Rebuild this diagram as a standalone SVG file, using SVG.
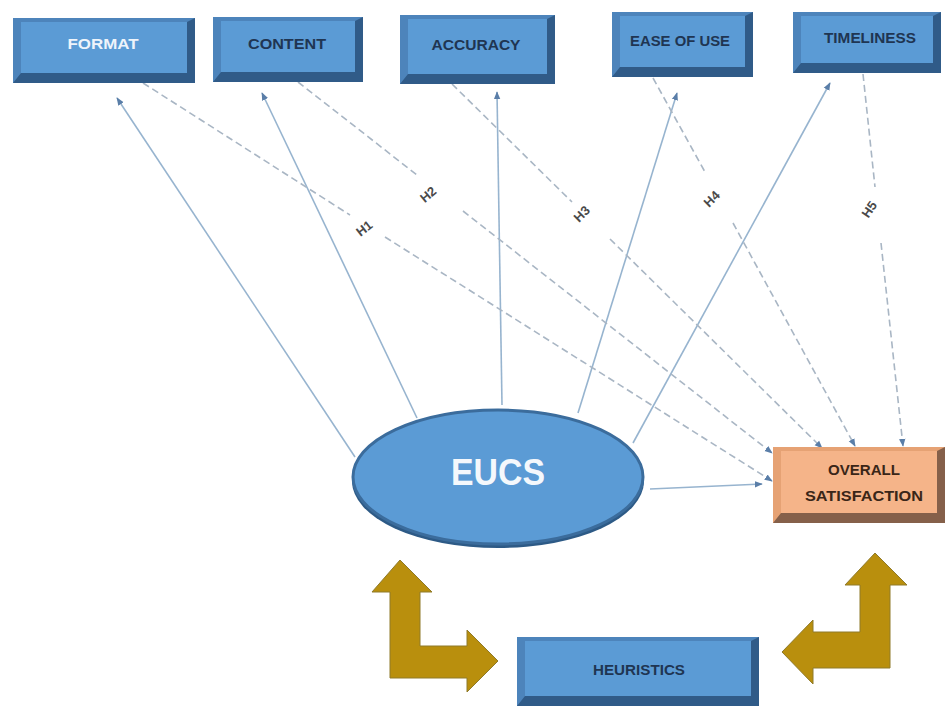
<svg xmlns="http://www.w3.org/2000/svg" width="948" height="708" viewBox="0 0 948 708">
<defs>
<style>
.out{fill:#305b88}
.lt{fill:#4d84bb}
.face{fill:#5b9bd5}
.oout{fill:#85604a}
.olt{fill:#e6a274}
.oface{fill:#f5b489}
.lbl{font-family:"Liberation Sans",Arial,sans-serif;font-weight:bold;font-size:15px;text-anchor:middle}
.dk{fill:#1f3552}
.wh{fill:#eef4fb}
.br{fill:#3a2618}
.h{font-family:"Liberation Sans",Arial,sans-serif;font-weight:bold;font-size:13px;fill:#4a4a4a;text-anchor:middle}
.sol{fill:none;stroke:#97b4cf;stroke-width:1.6}
.dsh{fill:none;stroke:#a9b6c4;stroke-width:1.6;stroke-dasharray:7 4}
.gold{fill:#b98f0d;stroke:#8f7a2a;stroke-width:1}
</style>
<marker id="ah" viewBox="0 0 10 10" refX="9" refY="5" markerWidth="8" markerHeight="8" markerUnits="userSpaceOnUse" orient="auto">
<path d="M0,1 L10,5 L0,9 Z" fill="#5a7ea8"/>
</marker>
</defs>
<rect width="948" height="708" fill="#ffffff"/>

<g id="connectors">
<path class="sol" d="M355,457 L117,98" marker-end="url(#ah)"/>
<path class="sol" d="M417,418 L262,93" marker-end="url(#ah)"/>
<path class="sol" d="M502,405 L497,92" marker-end="url(#ah)"/>
<path class="sol" d="M578,413 L677,93" marker-end="url(#ah)"/>
<path class="sol" d="M633,443 L830,83" marker-end="url(#ah)"/>
<path class="sol" d="M650,489 L762,484" marker-end="url(#ah)"/>
<path class="dsh" d="M143,83 L350,215 M385,237 L772,481" marker-end="url(#ah)"/>
<path class="dsh" d="M298,82 L417,175 M463,211 L772,453" marker-end="url(#ah)"/>
<path class="dsh" d="M452,84 L572,202 M610,239 L822,448" marker-end="url(#ah)"/>
<path class="dsh" d="M653,78 L705,172 M733,223 L855,446" marker-end="url(#ah)"/>
<path class="dsh" d="M863,74 L875,187 M881,243 L903,446" marker-end="url(#ah)"/>
<text class="h" transform="translate(367,232) rotate(-38)">H1</text>
<text class="h" transform="translate(431,198) rotate(-40)">H2</text>
<text class="h" transform="translate(585,217) rotate(-45)">H3</text>
<text class="h" transform="translate(715,202) rotate(-45)">H4</text>
<text class="h" transform="translate(873,212) rotate(-55)">H5</text>
</g>

<g id="format">
<rect class="out" x="13" y="18" width="182" height="65"/>
<polygon class="lt" points="13,18 195,18 187,22 21,22 21,73 13,83"/>
<rect class="face" x="21" y="22" width="166" height="51"/>
<text class="lbl wh" x="103" y="49" textLength="71" lengthAdjust="spacingAndGlyphs">FORMAT</text>
</g>

<g id="content">
<rect class="out" x="213" y="17" width="150" height="65"/>
<polygon class="lt" points="213,17 363,17 355,21 221,21 221,72 213,82"/>
<rect class="face" x="221" y="21" width="134" height="51"/>
<text class="lbl dk" x="287" y="49" textLength="78" lengthAdjust="spacingAndGlyphs">CONTENT</text>
</g>

<g id="accuracy">
<rect class="out" x="400" y="15" width="155" height="69"/>
<polygon class="lt" points="400,15 555,15 547,19 408,19 408,74 400,84"/>
<rect class="face" x="408" y="19" width="139" height="55"/>
<text class="lbl dk" x="476" y="50" textLength="89" lengthAdjust="spacingAndGlyphs">ACCURACY</text>
</g>

<g id="ease-of-use">
<rect class="out" x="612" y="12" width="141" height="65"/>
<polygon class="lt" points="612,12 753,12 745,16 620,16 620,67 612,77"/>
<rect class="face" x="620" y="16" width="125" height="51"/>
<text class="lbl dk" x="680" y="46" textLength="100" lengthAdjust="spacingAndGlyphs">EASE OF USE</text>
</g>

<g id="timeliness">
<rect class="out" x="793" y="12" width="148" height="61"/>
<polygon class="lt" points="793,12 941,12 933,16 801,16 801,63 793,73"/>
<rect class="face" x="801" y="16" width="132" height="47"/>
<text class="lbl dk" x="870" y="43" textLength="92" lengthAdjust="spacingAndGlyphs">TIMELINESS</text>
</g>

<g id="eucs">
<ellipse cx="498" cy="481" rx="146" ry="67" fill="#2d5a86"/>
<ellipse cx="498" cy="477" rx="145" ry="67" fill="#5b9bd5" stroke="#3b6c9c" stroke-width="3"/>
<text x="498" y="485" font-family="'Liberation Sans',Arial,sans-serif" font-weight="bold" font-size="36" fill="#f4f8fc" text-anchor="middle" textLength="94" lengthAdjust="spacingAndGlyphs">EUCS</text>
</g>

<g id="overall-satisfaction">
<rect class="oout" x="773" y="447" width="172" height="76"/>
<polygon class="olt" points="773,447 945,447 937,451 781,451 781,513 773,523"/>
<rect class="oface" x="781" y="451" width="156" height="62"/>
<text class="lbl br" x="864" y="475" textLength="72" lengthAdjust="spacingAndGlyphs">OVERALL</text>
<text class="lbl br" x="864" y="501" textLength="118" lengthAdjust="spacingAndGlyphs">SATISFACTION</text>
</g>

<g id="heuristics">
<rect class="out" x="517" y="637" width="242" height="69"/>
<polygon class="lt" points="517,637 759,637 751,641 525,641 525,696 517,706"/>
<rect class="face" x="525" y="641" width="226" height="55"/>
<text class="lbl dk" x="639" y="675" textLength="92" lengthAdjust="spacingAndGlyphs">HEURISTICS</text>
</g>

<g id="arrow-left">
<path class="gold" d="M400,560 L432,592 L420,592 L420,646 L467,646 L467,630 L498,661 L467,692 L467,678 L390,678 L390,592 L372,592 Z"/>
</g>

<g id="arrow-right">
<path class="gold" d="M875,553 L907,585 L890,585 L890,668 L813,668 L813,684 L782,652 L813,620 L813,632 L860,632 L860,585 L845,585 Z"/>
</g>
</svg>
